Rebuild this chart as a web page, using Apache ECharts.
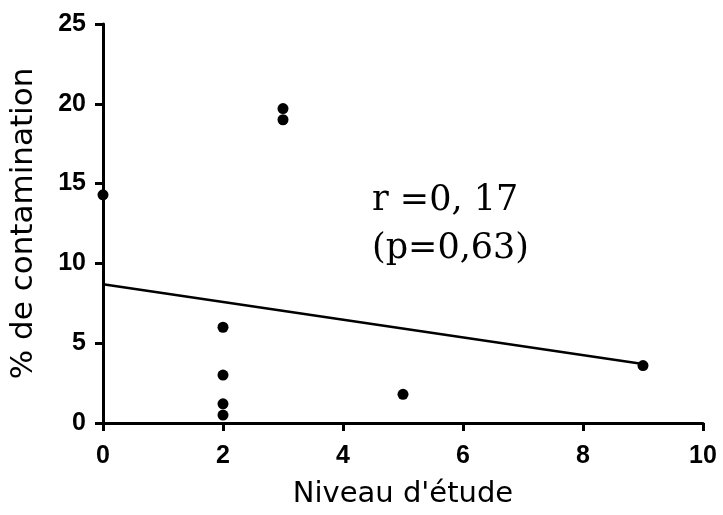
<!DOCTYPE html>
<html>
<head>
<meta charset="utf-8">
<script src="https://cdn.jsdelivr.net/npm/echarts@6/dist/echarts.min.js"></script>
<style>
  html, body { margin: 0; padding: 0; background: #fff; }
  #chart { width: 723px; height: 515px; }
</style>
</head>
<body>
<div id="chart"></div>
<script>
// Observed values: education level vs. contamination rate
const niveau = [0, 3, 3, 2, 2, 2, 2, 5, 9];
const contamination = [14.3, 19.7, 19.0, 6.0, 3.0, 1.2, 0.5, 1.8, 3.6];

// Fitted regression line end points
const fitX = [0, 9];
const fitY = [8.7, 3.7];

const xTicks = [0, 2, 4, 6, 8, 10];
const yTicks = [0, 5, 10, 15, 20, 25];

const statsLines = ['r =0, 17', '(p=0,63)'];

const points = niveau.map((x, i) => [x, contamination[i]]);
const fitLine = fitX.map((x, i) => [x, fitY[i]]);

const chart = echarts.init(document.getElementById('chart'));
const tickFont = { fontFamily: '"Liberation Sans", Arial, sans-serif', color: '#000' };
const nameFont = { fontFamily: '"DejaVu Sans", Verdana, sans-serif', color: '#000' };

chart.setOption({
  animation: false,
  backgroundColor: '#fff',
  grid: { left: 103, right: 20, top: 24, bottom: 92 },
  xAxis: {
    type: 'value',
    min: xTicks[0],
    max: xTicks[xTicks.length - 1],
    interval: 2,
    name: "Niveau d'étude",
    nameLocation: 'middle',
    nameGap: 57,
    nameTextStyle: Object.assign({ fontSize: 29 }, nameFont),
    axisLine: { lineStyle: { color: '#000', width: 3 } },
    axisTick: { length: 8, lineStyle: { color: '#000', width: 3 } },
    axisLabel: Object.assign({ fontSize: 25, fontWeight: 'bold', margin: 21 }, tickFont),
    splitLine: { show: false }
  },
  yAxis: {
    type: 'value',
    min: yTicks[0],
    max: yTicks[yTicks.length - 1],
    interval: 5,
    name: '% de contamination',
    nameLocation: 'middle',
    nameGap: 64,
    nameTextStyle: Object.assign({ fontSize: 31 }, nameFont),
    axisLine: { lineStyle: { color: '#000', width: 3 } },
    axisTick: { length: 8, lineStyle: { color: '#000', width: 3 } },
    axisLabel: Object.assign({ fontSize: 25, fontWeight: 'bold', margin: 17 }, tickFont),
    splitLine: { show: false }
  },
  series: [
    {
      type: 'line',
      data: fitLine,
      symbol: 'none',
      lineStyle: { color: '#000', width: 2.5 },
      z: 2
    },
    {
      type: 'scatter',
      data: points,
      symbol: 'circle',
      symbolSize: 11,
      itemStyle: { color: '#000', opacity: 1 },
      z: 3
    }
  ],
  graphic: [
    {
      type: 'text',
      left: 372,
      top: 177,
      style: {
        text: statsLines.join('\n'),
        font: '35px "DejaVu Serif", "Liberation Serif", serif',
        lineHeight: 48,
        fill: '#000'
      }
    }
  ]
});
</script>
</body>
</html>
